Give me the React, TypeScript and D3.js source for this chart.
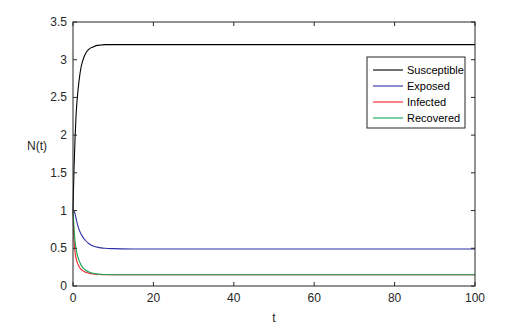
import React from "react";
import * as d3 from "d3";

const tValues = [0, 0.25, 0.5, 0.75, 1, 1.5, 2, 2.5, 3, 4, 5, 6, 7, 8, 10, 12, 15, 20, 30, 50, 100];
const susceptible = [1, 1.55, 1.95, 2.25, 2.45, 2.72, 2.9, 3.0, 3.07, 3.14, 3.17, 3.19, 3.195, 3.2, 3.2, 3.2, 3.2, 3.2, 3.2, 3.2, 3.2];
const exposed = [1, 0.99, 0.96, 0.9, 0.84, 0.75, 0.69, 0.645, 0.61, 0.56, 0.53, 0.515, 0.505, 0.5, 0.495, 0.492, 0.49, 0.49, 0.49, 0.49, 0.49];
const infected = [1, 0.62, 0.46, 0.37, 0.32, 0.26, 0.22, 0.2, 0.185, 0.17, 0.16, 0.155, 0.152, 0.15, 0.15, 0.15, 0.15, 0.15, 0.15, 0.15, 0.15];
const recovered = [1, 0.78, 0.6, 0.5, 0.43, 0.34, 0.28, 0.24, 0.215, 0.185, 0.168, 0.16, 0.155, 0.152, 0.15, 0.15, 0.15, 0.15, 0.15, 0.15, 0.15];

const seriesNames = ["Susceptible", "Exposed", "Infected", "Recovered"];
const seriesColors = ["#000000", "#2e2ea6", "#f02028", "#12a855"];
const xTicks = [0, 20, 40, 60, 80, 100];
const yTicks = [0, 0.5, 1, 1.5, 2, 2.5, 3, 3.5];

const W = 530;
const H = 328;
const margin = { top: 22, right: 55, bottom: 42, left: 73 };
const axisColor = "#262626";
const font = "Arial, 'Liberation Sans', sans-serif";

export default function App() {
  const x = d3.scaleLinear().domain([0, 100]).range([margin.left, W - margin.right]);
  const y = d3.scaleLinear().domain([0, 3.5]).range([H - margin.bottom, margin.top]);

  const allSeries = [susceptible, exposed, infected, recovered];
  const line = d3
    .line<number>()
    .x((_, i) => x(tValues[i]))
    .y((d) => y(d))
    .curve(d3.curveMonotoneX);

  const x0 = x(0), x1 = x(100), y0 = y(0), y1 = y(3.5);
  const tick = 4;

  // legend layout
  const lg = { x: 367, y: 57, w: 98, h: 71, row: 16 };

  return (
    <svg
      width={W}
      height={H}
      style={{ position: "absolute", left: 0, top: 0, background: "#fff" }}
      fontFamily={font}
    >
      <rect x={0} y={0} width={W} height={H} fill="#fff" />

      {/* data lines */}
      {allSeries.map((s, i) => (
        <path key={seriesNames[i]} d={line(s) ?? ""} fill="none" stroke={seriesColors[i]} strokeWidth={1.1} />
      ))}

      {/* box */}
      <rect x={x0} y={y1} width={x1 - x0} height={y0 - y1} fill="none" stroke={axisColor} strokeWidth={1} />

      {/* x ticks */}
      {xTicks.map((t) => (
        <g key={"x" + t}>
          <line x1={x(t)} x2={x(t)} y1={y0} y2={y0 - tick} stroke={axisColor} />
          <line x1={x(t)} x2={x(t)} y1={y1} y2={y1 + tick} stroke={axisColor} />
          <text x={x(t)} y={y0 + 16} textAnchor="middle" fontSize={12} fill={axisColor}>
            {t}
          </text>
        </g>
      ))}

      {/* y ticks */}
      {yTicks.map((v) => (
        <g key={"y" + v}>
          <line x1={x0} x2={x0 + tick} y1={y(v)} y2={y(v)} stroke={axisColor} />
          <line x1={x1} x2={x1 - tick} y1={y(v)} y2={y(v)} stroke={axisColor} />
          <text x={x0 - 6} y={y(v) + 4} textAnchor="end" fontSize={12} fill={axisColor}>
            {v}
          </text>
        </g>
      ))}

      {/* axis labels */}
      <text x={37} y={150} textAnchor="middle" fontSize={12} fill={axisColor}>
        N(t)
      </text>
      <text x={(x0 + x1) / 2} y={322} textAnchor="middle" fontSize={12} fill={axisColor}>
        t
      </text>

      {/* legend */}
      <rect x={lg.x} y={lg.y} width={lg.w} height={lg.h} fill="#fff" stroke={axisColor} strokeWidth={1} />
      {seriesNames.map((name, i) => {
        const ly = lg.y + 13 + i * lg.row;
        return (
          <g key={"lg" + name}>
            <line x1={lg.x + 6} x2={lg.x + 36} y1={ly} y2={ly} stroke={seriesColors[i]} strokeWidth={1.1} />
            <text x={lg.x + 40} y={ly + 4} fontSize={11} fill="#000">
              {name}
            </text>
          </g>
        );
      })}
    </svg>
  );
}
